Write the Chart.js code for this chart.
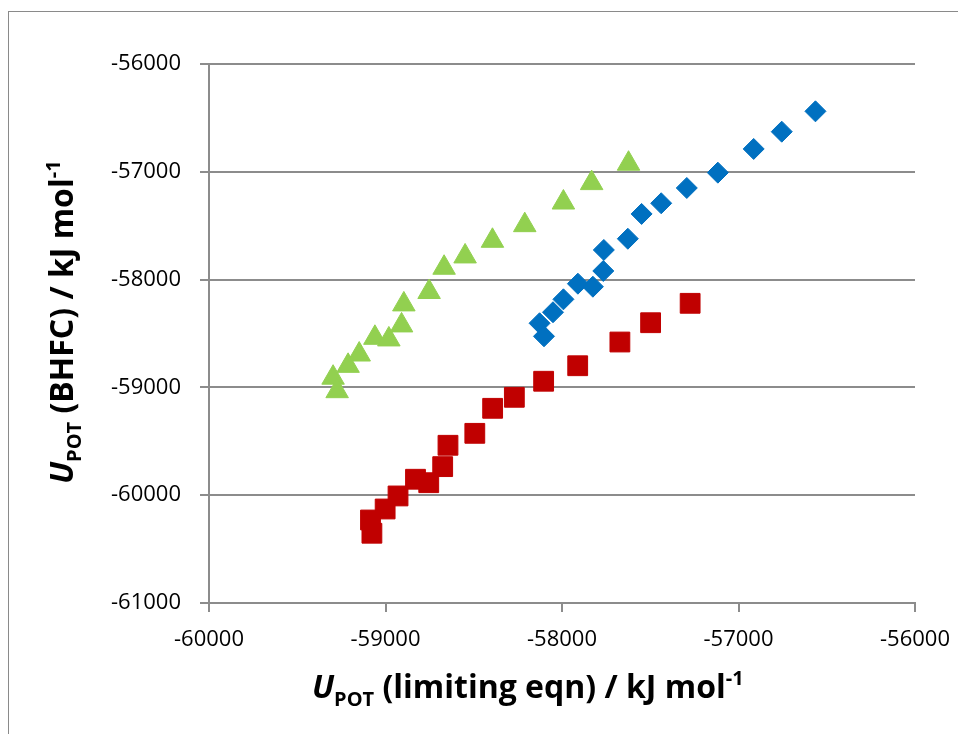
<!DOCTYPE html>
<html>
<head>
<meta charset="utf-8">
<script src="https://cdn.jsdelivr.net/npm/chart.js@4/dist/chart.umd.min.js"></script>
<style>
  html, body { margin: 0; padding: 0; background: #fff; }
  #wrap { position: relative; width: 958px; height: 734px; overflow: hidden; }
  #frame { position: absolute; left: 8px; top: 11px; width: 1000px; height: 800px; border: 1px solid #8a8a8a; box-sizing: border-box; }
  #chart { position: absolute; left: 0; top: 0; }
</style>
</head>
<body>
<div id="wrap">
  <div id="frame"></div>
  <canvas id="chart" width="958" height="734"></canvas>
</div>
<script>
// ===== Số liệu =====
const blueX = [-56564, -56755, -56914, -57117, -57293, -57438, -57549, -57627, -57763, -57766, -57910, -57825, -57992, -58051, -58127, -58102];
const blueY = [-56439, -56628, -56788, -57008, -57150, -57292, -57391, -57621, -57725, -57920, -58038, -58066, -58183, -58303, -58405, -58526];

const redX = [-57274, -57498, -57672, -57911, -58104, -58270, -58393, -58494, -58646, -58676, -58830, -58755, -58929, -59002, -59085, -59077];
const redY = [-58220, -58400, -58579, -58799, -58943, -59092, -59194, -59426, -59537, -59735, -59852, -59884, -60007, -60128, -60230, -60353];

const greenX = [-59297, -59274, -59212, -59149, -59060, -58981, -58909, -58896, -58753, -58668, -58549, -58394, -58211, -57992, -57832, -57623];
const greenY = [-58910, -59035, -58800, -58695, -58540, -58555, -58425, -58230, -58115, -57890, -57785, -57640, -57495, -57285, -57105, -56925];

const xTicks = [-60000, -59000, -58000, -57000, -56000];
const yTicks = [-61000, -60000, -59000, -58000, -57000, -56000];

const FONT = '"Open Sans", "Noto Sans", sans-serif';
const GRID = '#8c8c8c';

const toPoints = (xs, ys) => xs.map((x, i) => ({ x: x, y: ys[i] }));

// vẽ chữ nhiều kiểu (chỉ số dưới / trên) liền nhau
function drawRich(ctx, parts, x, y) {
    let cx = x;
    parts.forEach(p => {
        ctx.font = p.font;
        ctx.fillText(p.text, cx, y + (p.dy || 0));
        cx += ctx.measureText(p.text).width;
    });
}

function titleParts(mid) {
    return [
        { text: 'U', font: 'italic bold 32px ' + FONT },
        { text: 'POT', font: 'bold 20px ' + FONT, dy: 8 },
        { text: mid + ' / kJ mol', font: 'bold 32px ' + FONT },
        { text: '-1', font: 'bold 20px ' + FONT, dy: -13 }
    ];
}

const axisTitles = {
    id: 'axisTitles',
    afterDraw(chart) {
        const ctx = chart.ctx;
        ctx.save();
        ctx.fillStyle = '#000';
        ctx.textBaseline = 'alphabetic';
        ctx.textAlign = 'left';
        drawRich(ctx, titleParts(' (limiting eqn)'), 312, 698);

        ctx.translate(73, 484);
        ctx.rotate(-Math.PI / 2);
        drawRich(ctx, titleParts(' (BHFC)'), 0, 0);
        ctx.restore();
    }
};

const ctx = document.getElementById('chart').getContext('2d');
new Chart(ctx, {
    type: 'scatter',
    data: {
        datasets: [
            {
                label: 'blue',
                data: toPoints(blueX, blueY),
                pointStyle: 'rectRot',
                pointRadius: 10.5,
                backgroundColor: '#0070C0',
                borderColor: '#0070C0',
                borderWidth: 1
            },
            {
                label: 'red',
                data: toPoints(redX, redY),
                pointStyle: 'rect',
                pointRadius: 14,
                backgroundColor: '#C00000',
                borderColor: '#C00000',
                borderWidth: 1
            },
            {
                label: 'green',
                data: toPoints(greenX, greenY),
                pointStyle: 'triangle',
                pointRadius: 13,
                backgroundColor: '#92D050',
                borderColor: '#92D050',
                borderWidth: 1
            }
        ]
    },
    options: {
        responsive: false,
        animation: false,
        layout: { padding: { top: 64, right: 43, left: 0, bottom: 0 } },
        plugins: {
            legend: { display: false },
            tooltip: { enabled: false }
        },
        scales: {
            x: {
                type: 'linear',
                min: -60000,
                max: -56000,
                afterBuildTicks: scale => { scale.ticks = xTicks.map(v => ({ value: v })); },
                afterFit: scale => {
                    scale.height = 131;
                    scale.paddingLeft = 0;
                    scale.paddingRight = 0;
                },
                grid: { drawOnChartArea: false, drawTicks: true, tickLength: 9, color: GRID, lineWidth: 2 },
                border: { display: true, color: GRID, width: 2 },
                ticks: {
                    color: '#000',
                    padding: 15,
                    font: { family: FONT, size: 22 },
                    callback: v => String(v)
                }
            },
            y: {
                type: 'linear',
                min: -61000,
                max: -56000,
                afterBuildTicks: scale => { scale.ticks = yTicks.map(v => ({ value: v })); },
                afterFit: scale => {
                    scale.width = 209;
                    scale.paddingTop = 0;
                    scale.paddingBottom = 0;
                },
                grid: { drawTicks: true, tickLength: 9, color: GRID, lineWidth: 2 },
                border: { display: true, color: GRID, width: 2 },
                ticks: {
                    color: '#000',
                    padding: 19,
                    font: { family: FONT, size: 22 },
                    callback: v => String(v)
                }
            }
        }
    },
    plugins: [axisTitles]
});
</script>
</body>
</html>
